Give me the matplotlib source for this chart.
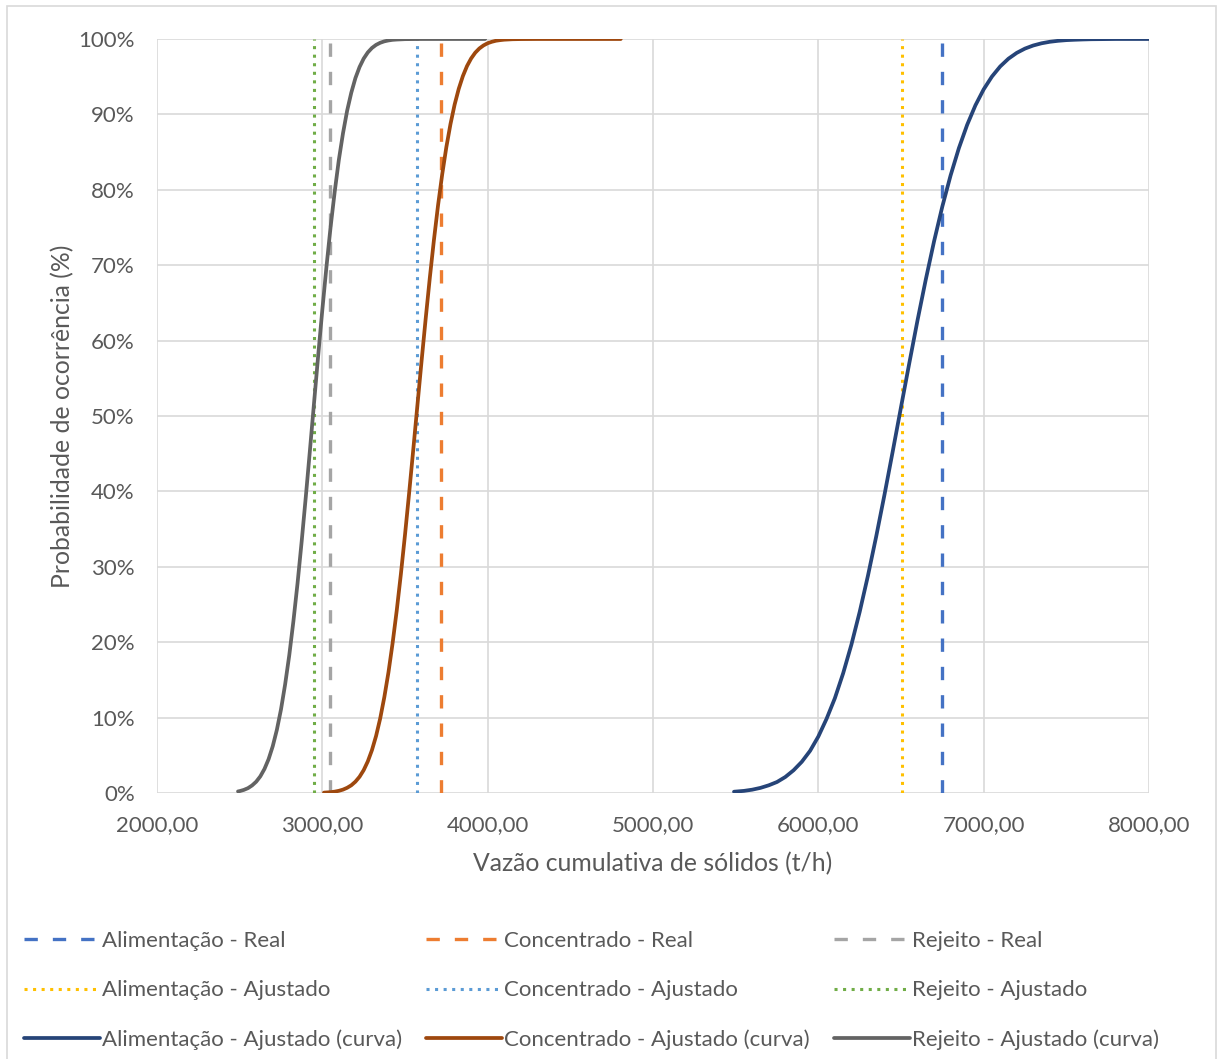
import matplotlib.pyplot as plt
from matplotlib.patches import Rectangle
from matplotlib.ticker import FuncFormatter, MultipleLocator

plt.rcParams['font.family'] = ['Lato', 'DejaVu Sans']

# fitted cumulative curves
alim_x = [5490, 5550, 5600, 5650, 5700, 5750, 5800, 5850, 5900, 5950, 6000, 6050, 6100, 6150,
          6200, 6250, 6300, 6350, 6400, 6450, 6500, 6550, 6600, 6650, 6700, 6750, 6800, 6850,
          6900, 6950, 7000, 7050, 7100, 7150, 7200, 7250, 7300, 7350, 7400, 7450, 7500, 7550,
          7600, 7650, 7700, 7800, 8000]
alim_p = [0.0017, 0.0028, 0.0044, 0.0068, 0.0102, 0.0146, 0.0212, 0.0301, 0.0414, 0.0559, 0.0749,
          0.0985, 0.1257, 0.1587, 0.1968, 0.2401, 0.2881, 0.3402, 0.3955, 0.4531, 0.5117, 0.5699,
          0.6270, 0.6811, 0.7317, 0.7779, 0.8191, 0.8552, 0.8861, 0.9120, 0.9332, 0.9502, 0.9636,
          0.9739, 0.9816, 0.9873, 0.9914, 0.9943, 0.9963, 0.9976, 0.9985, 0.9990, 0.9994, 0.9997,
          0.9998, 1.0, 1.0]

conc_x = [3010, 3050, 3075, 3100, 3125, 3150, 3175, 3200, 3225, 3250, 3275, 3300, 3325, 3350,
          3375, 3400, 3425, 3450, 3475, 3500, 3525, 3550, 3575, 3600, 3625, 3650, 3675, 3700,
          3725, 3750, 3775, 3800, 3825, 3850, 3875, 3900, 3925, 3950, 3975, 4000, 4025, 4050,
          4075, 4100, 4150, 4200, 4300, 4500, 4805]
conc_p = [0.0005, 0.0011, 0.0018, 0.0029, 0.0045, 0.0069, 0.0102, 0.0150, 0.0215, 0.0303, 0.0419,
          0.0568, 0.0756, 0.0989, 0.1272, 0.1601, 0.1987, 0.2420, 0.2902, 0.3424, 0.3978, 0.4554,
          0.5140, 0.5724, 0.6289, 0.6831, 0.7335, 0.7796, 0.8205, 0.8565, 0.8871, 0.9129, 0.9339,
          0.9508, 0.9641, 0.9742, 0.9819, 0.9875, 0.9915, 0.9944, 0.9963, 0.9977, 0.9985, 0.9991,
          0.9997, 0.9999, 1.0, 1.0, 1.0]

rej_x = [2490, 2500, 2525, 2550, 2575, 2600, 2625, 2650, 2675, 2700, 2725, 2750, 2775, 2800,
         2825, 2850, 2875, 2900, 2925, 2950, 2975, 3000, 3025, 3050, 3075, 3100, 3125, 3150,
         3175, 3200, 3225, 3250, 3275, 3300, 3325, 3350, 3375, 3400, 3425, 3450, 3500, 3600,
         3800, 3985]
rej_p = [0.0021, 0.0025, 0.0041, 0.0064, 0.0100, 0.0150, 0.0221, 0.0319, 0.0449, 0.0620, 0.0838,
         0.1109, 0.1441, 0.1827, 0.2278, 0.2780, 0.3336, 0.3928, 0.4546, 0.5177, 0.5804, 0.6409,
         0.6980, 0.7508, 0.7978, 0.8399, 0.8750, 0.9049, 0.9287, 0.9481, 0.9628, 0.9740, 0.9822,
         0.9881, 0.9922, 0.9950, 0.9969, 0.9981, 0.9989, 0.9993, 0.9998, 1.0, 1.0, 1.0]

# vertical reference lines (real and fitted means)
real_x = {'Alimentação': 6750, 'Concentrado': 3720, 'Rejeito': 3045}
ajust_x = {'Alimentação': 6505, 'Concentrado': 3570, 'Rejeito': 2947}
line_y = [0, 1]

x_ticks = [2000, 3000, 4000, 5000, 6000, 7000, 8000]

fig = plt.figure(figsize=(12.18, 10.59), dpi=100)
ax = fig.add_axes([157 / 1218, 1 - 793 / 1059, (1149 - 157) / 1218, (793 - 39) / 1059])

grey_txt = '#595959'
handles = []
curves = {'Alimentação': (alim_x, alim_p), 'Concentrado': (conc_x, conc_p), 'Rejeito': (rej_x, rej_p)}
c_real = {'Alimentação': '#4472C4', 'Concentrado': '#ED7D31', 'Rejeito': '#A5A5A5'}
c_adj = {'Alimentação': '#FFC000', 'Concentrado': '#5B9BD5', 'Rejeito': '#70AD47'}
c_curve = {'Alimentação': '#264478', 'Concentrado': '#9E480E', 'Rejeito': '#636363'}

for name in ['Alimentação', 'Concentrado', 'Rejeito']:
    h1, = ax.plot([real_x[name]] * 2, line_y, color=c_real[name], lw=2.4,
                  linestyle=(0, (4, 4.5)), label=name + ' - Real', zorder=3)
    h2, = ax.plot([ajust_x[name]] * 2, line_y, color=c_adj[name], lw=2.2,
                  linestyle=(0, (1, 1.8)), label=name + ' - Ajustado', zorder=3)
    cx, cp = curves[name]
    h3, = ax.plot(cx, cp, color=c_curve[name], lw=2.7, solid_capstyle='round',
                  solid_joinstyle='round', label=name + ' - Ajustado (curva)', zorder=4)
    handles += [h1, h2, h3]

ax.set_xlim(2000, 8000)
ax.set_ylim(0, 1)
ax.set_xticks(x_ticks)
ax.yaxis.set_major_locator(MultipleLocator(0.1))
ax.xaxis.set_major_formatter(FuncFormatter(lambda v, p: f'{v:.2f}'.replace('.', ',')))
ax.yaxis.set_major_formatter(FuncFormatter(lambda v, p: f'{v * 100:.0f}%'))
ax.grid(True, color='#D9D9D9', lw=1.2)
ax.set_axisbelow(True)
for s in ax.spines.values():
    s.set_visible(False)
ax.tick_params(length=0, labelsize=16, labelcolor=grey_txt)
ax.tick_params(axis='x', pad=16)
ax.tick_params(axis='y', pad=16)
ax.set_xlabel('Vazão cumulativa de sólidos (t/h)', fontsize=17.8, color=grey_txt, labelpad=12)
ax.set_ylabel('Probabilidade de ocorrência (%)', fontsize=17.8, color=grey_txt, labelpad=3)

fig.legend(handles=handles, loc='upper left', bbox_to_anchor=(24 / 1218, 1 - 931 / 1059),
           ncol=3, frameon=False, fontsize=16, labelcolor=grey_txt, handlelength=3.4,
           handletextpad=0.1, columnspacing=1.1, labelspacing=1.32, borderpad=0, borderaxespad=0)

fig.patches.append(Rectangle((7 / 1218, -0.01), 1209 / 1218, 1.01 - 6 / 1059, transform=fig.transFigure,
                             fill=False, edgecolor='#D9D9D9', lw=1.2))

fig.savefig('out.png', dpi=100)
